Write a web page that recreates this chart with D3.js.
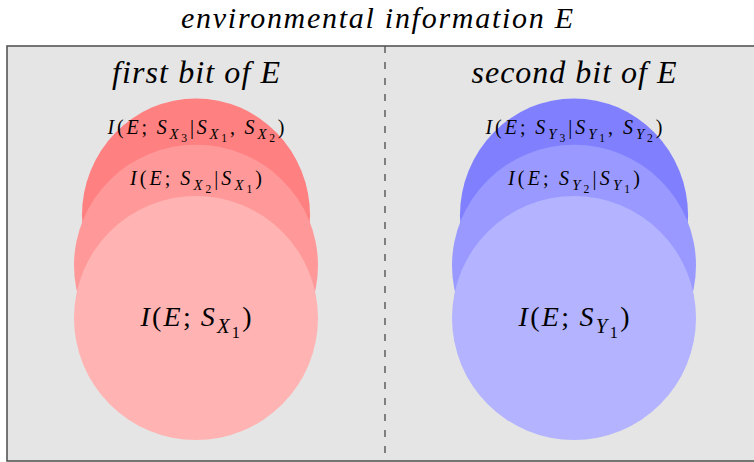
<!DOCTYPE html>
<html><head>
<script src="https://cdn.jsdelivr.net/npm/d3@7"></script>
</head><body style="margin:0">
<script>
// ---- data ----
const title = "environmental information E";
const panels = ["first bit of E", "second bit of E"];
const panelVar = ["X", "Y"];
// layers: drawn back (3rd sensor) to front (1st sensor)
const layerIndex = [3, 2, 1];
// relative ellipse geometry (units of the front circle's radius)
const layerCenterOffset = [-0.84, -0.43, 0];
const layerRx = [0.935, 1.0, 1.0];
const layerRy = [0.96, 0.99, 1.0];
const redFills = ["#ff8080", "#ff9999", "#ffb3b3"];
const blueFills = ["#8080ff", "#9999ff", "#b3b3ff"];

const W = 754, H = 462;
const FONT = 'Liberation Serif, Tinos, Times New Roman, Times';
const svg = d3.select("body").append("svg").attr("width", W).attr("height", H);

const box = {x0: 7, x1: 763, y0: 46, y1: 461};
const xBand = d3.scaleBand().domain(panels).range([box.x0, box.x1]);
const unit = d3.scaleLinear().domain([0, 1]).range([0, 122]);
const yC = d3.scaleLinear().domain([0, 1]).range([318, 318 + 122]);

svg.append("rect").attr("x", box.x0).attr("y", box.y0)
  .attr("width", box.x1 - box.x0).attr("height", box.y1 - box.y0)
  .attr("fill", "#e5e5e5").attr("stroke", "#555").attr("stroke-width", 1.6);

svg.append("line").attr("x1", xBand(panels[1])).attr("x2", xBand(panels[1]))
  .attr("y1", box.y0).attr("y2", box.y1)
  .attr("stroke", "#555").attr("stroke-width", 1.4).attr("stroke-dasharray", "7,9");

svg.append("text").attr("x", W / 2).attr("y", 28).attr("text-anchor", "middle")
  .attr("font-family", FONT).attr("font-style", "italic").attr("font-size", 30)
  .attr("textLength", 392).attr("lengthAdjust", "spacing")
  .text(title);

// math text helper: tokens [text, italic, level]
function mathText(g, x, y, size, tokens, target) {
  const t = g.append("text").attr("x", x).attr("y", y).attr("text-anchor", "middle")
    .attr("font-family", FONT).attr("font-size", size)
    .attr("textLength", target).attr("lengthAdjust", "spacing");
  const scale = [1, 0.74, 0.58];
  const shift = [0, 0.25, 0.42];
  let prev = 0;
  tokens.forEach(([txt, it, lvl]) => {
    const dy = (shift[lvl] - shift[prev]) * size;
    t.append("tspan").attr("dy", dy).attr("font-size", size * scale[lvl])
      .attr("font-style", it ? "italic" : "normal").text(txt);
    prev = lvl;
  });
  return t;
}
function sTok(v, n) { return [["S", 1, 0], [v, 1, 1], [String(n), 0, 2]]; }
function labelTokens(v, k) {
  let toks = [["I", 1, 0], ["(", 0, 0], ["E", 1, 0], [";\u2009", 0, 0], ...sTok(v, k)];
  if (k > 1) {
    toks.push(["|", 0, 0]);
    for (let j = 1; j < k; j++) {
      if (j > 1) toks.push([",\u2009", 0, 0]);
      toks.push(...sTok(v, j));
    }
  }
  toks.push([")", 0, 0]);
  return toks;
}

const panelTargets = [168, 205];
const labelY = [134, 185, 326];
const labelSize = [20, 20, 28];
const labelTargets = [177, 132, 111];

panels.forEach((p, pi) => {
  const g = svg.append("g");
  const cx = xBand(p) + xBand.bandwidth() / 2;
  const fills = pi === 0 ? redFills : blueFills;
  g.append("text").attr("x", cx).attr("y", 83).attr("text-anchor", "middle")
    .attr("font-family", FONT).attr("font-style", "italic").attr("font-size", 32)
    .attr("textLength", panelTargets[pi]).attr("lengthAdjust", "spacing")
    .text(p);
  layerIndex.forEach((k, li) => {
    g.append("ellipse").attr("cx", cx).attr("cy", yC(layerCenterOffset[li]))
      .attr("rx", unit(layerRx[li])).attr("ry", unit(layerRy[li]))
      .attr("fill", fills[li]);
  });
  layerIndex.forEach((k, li) => {
    mathText(g, cx, labelY[li], labelSize[li], labelTokens(panelVar[pi], k), labelTargets[li]);
  });
});
</script>
</body></html>
